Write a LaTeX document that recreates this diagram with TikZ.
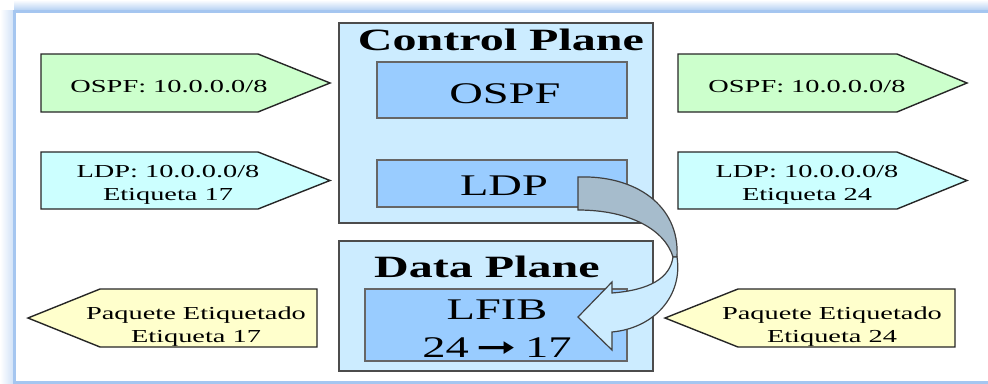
\documentclass[tikz,border=0pt]{standalone}
\usepackage{fontspec}
\setmainfont{Liberation Serif}[FakeStretch=1.55]
\newfontfamily\arrowfont{DejaVu Sans}[FakeStretch=1.6]
\definecolor{frameblue}{RGB}{165,198,240}
\definecolor{planefill}{RGB}{204,236,255}
\definecolor{boxfill}{RGB}{153,204,255}
\definecolor{ospffill}{RGB}{204,255,204}
\definecolor{ldpfill}{RGB}{204,255,255}
\definecolor{pktfill}{RGB}{255,255,204}
\definecolor{turnfill}{RGB}{166,188,204}
\tikzset{
  planebox/.style={draw=black!70,line width=1.3pt,fill=planefill},
  protobox/.style={draw=black!60,line width=1.1pt,fill=boxfill},
  tagshape/.style={draw=black!85,line width=1.4pt,line join=miter},
  turnline/.style={draw=black!75,line width=1.2pt},
  smalltxt/.style={font=\fontsize{18.3}{23}\selectfont,inner sep=0pt,align=center},
  bigtxt/.style={font=\fontsize{30}{38}\selectfont,inner sep=0pt,anchor=base},
  titletxt/.style={font=\fontsize{31}{37}\selectfont\bfseries,inner sep=0pt,anchor=base}
}
\begin{document}
\begin{tikzpicture}[x=1pt,y=-1pt]
  \useasboundingbox (0,0) rectangle (988,383);
  \shade[top color=white,bottom color=frameblue!80] (14,0) rectangle (988,10);
  \shade[left color=white,right color=frameblue!50] (0,10) rectangle (13,383);
  \draw[frameblue,line width=3pt] (992,11.5) -- (14.5,11.5) -- (14.5,382) -- (992,382);

  \node[planebox,minimum width=314pt,minimum height=200pt] (ctrl) at (496,123) {};
  \node[titletxt] (ctrltitle) at (501,50) {Control Plane};
  \node[protobox,minimum width=250pt,minimum height=56pt] (ospf) at (502,90) {};
  \node[bigtxt] (ospftxt) at (505,103) {OSPF};
  \node[protobox,minimum width=250pt,minimum height=47pt] (ldp) at (502,183.5) {};
  \node[bigtxt] (ldptxt) at (504,195) {LDP};

  \node[planebox,minimum width=314pt,minimum height=130pt] (data) at (496,306) {};
  \node[titletxt] (datatitle) at (487,277) {Data Plane};
  \node[protobox,minimum width=262pt,minimum height=72pt] (lfib) at (496,325) {};
  \node[bigtxt] (lfibtxt) at (497,319) {LFIB};
  \node[bigtxt] (swap) at (497,357) {24\kern8pt{\arrowfont\fontsize{30}{34}\selectfont ➞}\kern8pt17};

  \draw[turnline,fill=turnfill] (578,177) .. controls (635,175) and (680,205) .. (677,257)
    -- (673,257) .. controls (665,230) and (630,210) .. (578,210) -- cycle;
  \draw[turnline,fill=planefill] (677,257) .. controls (683,295) and (655,328) .. (612,332)
    -- (612,350) -- (578,317) -- (612,282) -- (612,293)
    .. controls (650,290) and (670,278) .. (673,257) -- cycle;

  \draw[tagshape,fill=ospffill] (41,54) -- (258,54) -- (330,83) -- (258,112) -- (41,112) -- cycle;
  \node[smalltxt,anchor=base] (ospfin) at (169,92) {OSPF: 10.0.0.0/8};
  \draw[tagshape,fill=ldpfill] (41,152) -- (258,152) -- (330,180.5) -- (258,209) -- (41,209) -- cycle;
  \node[smalltxt] (ldpin) at (168,184.5) {LDP: 10.0.0.0/8\\Etiqueta 17};
  \draw[tagshape,fill=pktfill] (28,318) -- (100,289) -- (317,289) -- (317,347) -- (100,347) -- cycle;
  \node[smalltxt] (pktout) at (196,326.5) {Paquete Etiquetado\\Etiqueta 17};

  \draw[tagshape,fill=ospffill] (678,54) -- (897,54) -- (967,83) -- (897,112) -- (678,112) -- cycle;
  \node[smalltxt,anchor=base] (ospfout) at (807,92) {OSPF: 10.0.0.0/8};
  \draw[tagshape,fill=ldpfill] (678,152) -- (897,152) -- (967,180.5) -- (897,209) -- (678,209) -- cycle;
  \node[smalltxt] (ldpout) at (807,184.5) {LDP: 10.0.0.0/8\\Etiqueta 24};
  \draw[tagshape,fill=pktfill] (665,318) -- (738,289) -- (955,289) -- (955,347) -- (738,347) -- cycle;
  \node[smalltxt] (pktin) at (832,326.5) {Paquete Etiquetado\\Etiqueta 24};
\end{tikzpicture}
\end{document}
